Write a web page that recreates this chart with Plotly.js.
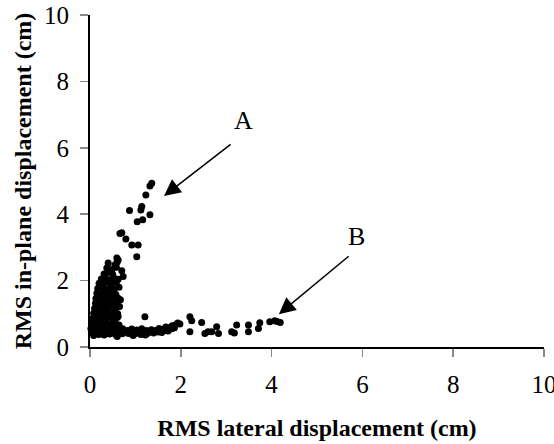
<!DOCTYPE html>
<html><head><meta charset="utf-8">
<script src="https://cdn.plot.ly/plotly-3.0.1.min.js"></script>
<style>html,body{margin:0;padding:0;background:#fff;}#chart{width:554px;height:444px;}</style>
</head><body><div id="chart"></div>
<script>
// RMS lateral displacement (cm)
const lateral = [
0.03,0.08,0.13,0.19,0.25,0.31,0.37,0.43,0.5,0.57,0.64,0.71,0.78,0.85,0.92,0.99,1.06,1.12,1.19,1.26,1.32,0.6,0.95,1.22,
0.02,0.09,0.16,0.23,0.3,0.38,0.46,0.54,0.62,0.72,0.83,0.92,1.03,1.14,1.24,1.35,1.42,
0.05,0.11,0.18,0.26,0.34,0.41,0.49,0.57,0.64,
0.06,0.13,0.2,0.27,0.35,0.43,0.51,0.59,0.62,
0.08,0.15,0.22,0.3,0.38,0.46,0.54,0.61,
0.1,0.17,0.25,0.32,0.4,0.48,0.56,0.65,
0.12,0.19,0.27,0.35,0.43,0.51,0.59,
0.13,0.21,0.29,0.37,0.45,0.54,0.62,0.67,
0.15,0.23,0.31,0.4,0.49,0.57,
0.17,0.26,0.34,0.43,0.53,0.64,
0.2,0.28,0.37,0.47,0.58,
0.25,0.34,0.44,0.53,0.62,
0.31,0.41,0.5,0.7,
0.37,0.49,0.58,
0.4,0.55,0.6,0.59,0.62,
0.73,1.03,0.92,1.06,0.79,0.66,0.7,1.04,1.16,0.87,1.12,1.14,1.32,1.23,1.32,1.36,
1.21,1.45,1.52,1.6,1.67,1.74,1.81,1.88,1.93,1.98,2.2,2.24,2.2,2.46,2.53,2.6,2.68,2.79,2.83,
3.12,3.18,3.23,3.49,3.49,3.71,3.74,3.96,4.07,4.19,4.12,
1.4,1.5,1.58,1.66,1.72,1.8,1.86
];
// RMS in-plane displacement (cm)
const inplane = [
0.42,0.35,0.45,0.38,0.43,0.36,0.44,0.39,0.42,0.37,0.44,0.4,0.45,0.41,0.44,0.4,0.43,0.38,0.44,0.41,0.45,0.32,0.35,0.36,
0.55,0.6,0.52,0.58,0.53,0.6,0.54,0.58,0.52,0.55,0.5,0.54,0.51,0.55,0.5,0.52,0.48,
0.72,0.66,0.75,0.68,0.74,0.67,0.73,0.69,0.66,
0.86,0.9,0.82,0.88,0.83,0.9,0.84,0.88,0.92,
1.02,0.97,1.05,0.99,1.04,0.98,1.03,1.0,
1.16,1.2,1.12,1.18,1.14,1.2,1.13,1.22,
1.32,1.28,1.35,1.3,1.36,1.29,1.33,
1.46,1.5,1.43,1.48,1.44,1.5,1.47,1.42,
1.62,1.58,1.65,1.6,1.63,1.58,
1.76,1.8,1.73,1.78,1.74,1.8,
1.92,1.88,1.95,1.9,1.94,
2.05,2.1,2.02,2.08,2.04,
2.2,2.25,2.18,2.3,
2.38,2.34,2.4,
2.53,2.48,2.56,2.68,2.62,
2.12,2.72,3.07,3.07,3.25,3.42,3.44,3.77,3.83,4.11,4.13,4.23,3.98,4.58,4.85,4.93,
0.91,0.5,0.56,0.53,0.6,0.58,0.64,0.66,0.72,0.69,0.91,0.79,0.46,0.74,0.41,0.46,0.46,0.61,0.41,
0.46,0.42,0.66,0.46,0.66,0.56,0.73,0.76,0.79,0.74,0.77,
0.42,0.45,0.44,0.5,0.48,0.55,0.58
];
const xTicks = [0,2,4,6,8,10];
const yTicks = [0,2,4,6,8,10];
const labelA = 'A';
const labelB = 'B';

const serif = '"Liberation Serif", "Times New Roman", serif';
const trace = {
  x: lateral, y: inplane, type: 'scatter', mode: 'markers',
  marker: {color: '#000', size: 7, line: {width: 0}},
  hoverinfo: 'skip', cliponaxis: false
};
const axisCommon = {
  range: [0,10], tickmode: 'array', ticks: 'outside', ticklen: 8, tickwidth: 1.5,
  tickcolor: '#888', showline: true, linecolor: '#000', linewidth: 2,
  showgrid: false, zeroline: false, mirror: false, ticklabeloverflow: 'allow',
  tickfont: {family: serif, size: 25, color: '#000'}
};
const layout = {
  width: 554, height: 444,
  margin: {l: 90, r: 10, t: 15, b: 97, autoexpand: false},
  font: {family: serif, color: '#000'},
  paper_bgcolor: '#fff', plot_bgcolor: '#fff',
  showlegend: false,
  xaxis: Object.assign({}, axisCommon, {tickvals: xTicks, ticktext: xTicks.map(String),
    ticklabelstandoff: 6, automargin: false,
    title: {text: '<b>RMS lateral displacement (cm)</b>', standoff: 22, font: {family: serif, size: 24, color: '#000'}}}),
  yaxis: Object.assign({}, axisCommon, {tickvals: yTicks, ticktext: yTicks.map(String),
    ticklabelstandoff: 6, automargin: false,
    title: {text: '<b>RMS in-plane displacement (cm)</b>', standoff: 6, font: {family: serif, size: 24, color: '#000'}}}),
  annotations: [
    {x: 1.63, y: 4.55, ax: 3.13, ay: 6.14, xref: 'x', yref: 'y', axref: 'x', ayref: 'y',
     text: '', showarrow: true, arrowhead: 2, arrowsize: 2.2, arrowwidth: 1.5, arrowcolor: '#000'},
    {x: 4.16, y: 0.99, ax: 5.73, ay: 2.77, xref: 'x', yref: 'y', axref: 'x', ayref: 'y',
     text: '', showarrow: true, arrowhead: 2, arrowsize: 2.2, arrowwidth: 1.5, arrowcolor: '#000'},
    {x: 3.39, y: 6.81, xref: 'x', yref: 'y', text: labelA, showarrow: false,
     font: {family: serif, size: 26, color: '#000'}},
    {x: 5.88, y: 3.34, xref: 'x', yref: 'y', text: labelB, showarrow: false,
     font: {family: serif, size: 26, color: '#000'}}
  ]
};
Plotly.newPlot('chart', [trace], layout, {staticPlot: true, displayModeBar: false});
</script>
</body></html>
